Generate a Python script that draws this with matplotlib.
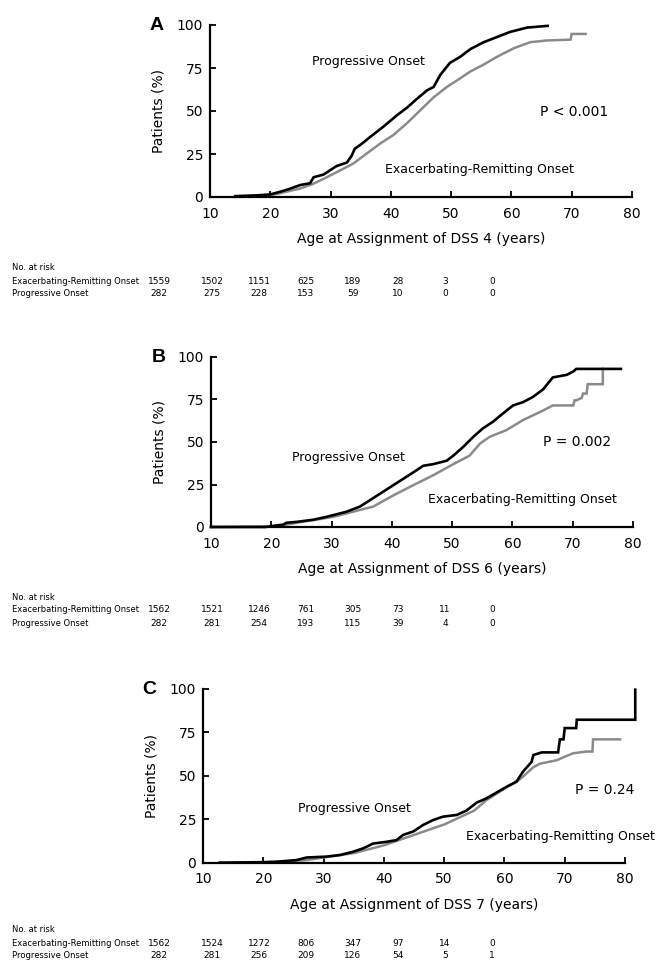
import matplotlib
matplotlib.use('Agg')
import matplotlib.pyplot as plt

# ---------------- data ----------------
# Panel A (DSS 4)
a_prog_age = [14.2, 18, 20, 21.6, 23, 25, 26.6, 27.2, 28.8, 29.9, 31, 32.7, 33.5, 34, 35.2, 36.6, 38.8,
              41, 42.7, 44.3, 46, 47.1, 48.2, 49.8, 51.5, 53.2, 55.4, 57.6, 59.8, 62.6, 66.0]
a_prog_pct = [0.5, 1, 1.5, 3, 4.5, 7, 8, 11.5, 13, 15.5, 18, 20, 24, 28, 31, 35, 41,
              47.5, 52, 57, 62, 64, 71, 78, 81.5, 86, 90, 93, 96, 98.5, 99.5]
a_er_age = [14, 18, 20, 22, 25, 27, 29.1, 31.6, 33.8, 35.5, 38.2, 40.4, 42.7, 44.9, 47.1, 49.3, 51.5,
            53.2, 55.4, 57.6, 60.4, 63.1, 65.9, 69.8, 70.0, 72.3]
a_er_pct = [0, 0.5, 1, 2.5, 5, 7.5, 11, 15.5, 19.5, 24, 31, 36, 43, 50.5, 58, 64, 69,
            73, 77, 81.5, 86.5, 90, 91, 91.5, 94.8, 94.8]

# Panel B (DSS 6)
b_prog_age = [10, 19, 20, 22, 22.5, 24.2, 27, 29.2, 30.3, 32.5, 34.7, 36.9, 39.1, 41.3, 43.5, 45.2, 46.9,
              49.1, 50.2, 51.8, 53.5, 55.1, 56.8, 58.5, 60.1, 61.8, 63.4, 65.1, 66.7, 69, 70.1, 70.6, 78]
b_prog_pct = [0, 0, 0.5, 1.4, 2.5, 3, 4.3, 6, 7, 9, 12, 17, 22, 27, 32, 36, 37,
              39, 42, 47, 53, 58, 62, 67, 71.5, 73.5, 76.5, 81, 88, 89.5, 91.5, 93, 93]
b_er_age = [10, 20, 22, 25, 27.5, 30.3, 33.6, 36.9, 40.2, 43.5, 46.9, 50.2, 52.9, 54.6, 56.2, 59, 61.8,
            64.5, 66.7, 70.1, 70.3, 70.6, 71.5, 71.7, 72.3, 72.5, 75.0, 75.0]
b_er_pct = [0, 0.3, 1, 3, 4.3, 6, 9, 12, 18.5, 24.5, 30.5, 37, 42, 49, 53, 57, 63,
            67.5, 71.5, 71.5, 74.5, 74.5, 76, 78.5, 78.5, 84, 84, 93]

# Panel C (DSS 7)
c_prog_age = [12.8, 20, 22, 25.5, 27.2, 30.5, 32.7, 34.9, 36.6, 38.2, 40.4, 42.1, 43.2, 44.9, 46.5, 48.2,
              49.8, 52.1, 53.7, 55.4, 57, 58.7, 60.4, 62, 63.1, 64.5, 64.8, 66.2, 68.9, 69.2, 69.8, 70.0,
              71.9, 72.0, 81.7, 81.7]
c_prog_pct = [0, 0.3, 0.5, 1.5, 3, 3.5, 4.4, 6.3, 8.3, 11, 12, 13, 16, 18, 21.7, 24.6,
              26.5, 27.5, 30, 34.6, 37, 40.4, 43.8, 46.7, 52.5, 58, 62, 63.5, 63.5, 71, 71, 77.5,
              77.5, 82.3, 82.3, 99.6]
c_er_age = [12.8, 20, 22, 25, 27.2, 30, 35, 40, 45, 50, 55, 57, 60.4, 62, 63.1, 64.8, 65.9, 68.7, 70,
            71.4, 73.6, 74.6, 74.7, 79.2]
c_er_pct = [0, 0.2, 0.5, 1, 1.5, 3, 5.5, 10, 16, 22, 30, 36, 43.5, 46.5, 49.6, 55, 57, 59, 61,
            63, 64, 64, 71, 71]

# Numbers at risk
risk_labels = ["Exacerbating-Remitting Onset", "Progressive Onset"]
a_risk_er = [1559, 1502, 1151, 625, 189, 28, 3, 0]
a_risk_prog = [282, 275, 228, 153, 59, 10, 0, 0]
b_risk_er = [1562, 1521, 1246, 761, 305, 73, 11, 0]
b_risk_prog = [282, 281, 254, 193, 115, 39, 4, 0]
c_risk_er = [1562, 1524, 1272, 806, 347, 97, 14, 0]
c_risk_prog = [282, 281, 256, 209, 126, 54, 5, 1]

x_ticks = [10, 20, 30, 40, 50, 60, 70, 80]
y_ticks = [0, 25, 50, 75, 100]
letters = ["A", "B", "C"]
xlabels = ["Age at Assignment of DSS 4 (years)", "Age at Assignment of DSS 6 (years)",
           "Age at Assignment of DSS 7 (years)"]
p_texts = ["P < 0.001", "P = 0.002", "P = 0.24"]

# ---------------- layout ----------------
W, H = 666, 967
fig = plt.figure(figsize=(W / 100, H / 100), dpi=100)
plt.rcParams['font.family'] = ['DejaVu Sans']


def fx(px):
    return px / W


def fy(py):
    return 1 - py / H


# (left px, right px, top px, bottom px)
rects = [(210, 632, 25, 197), (211, 633, 357, 527), (203, 625, 689, 862.7)]
letter_pos = [(157, 25), (159, 358), (149, 690)]
prog_lbl = [(26.9, 78.5), (23.4, 40.6), (25.8, 31)]
er_lbl = [(39, 15.7), (46, 16), (53.6, 15)]
p_pos = [(64.7, 49.4), (65, 50), (71.7, 42)]
risk_y = [(268, 281, 294), (597, 610, 623), (929, 943, 956)]
col_x = [159, 212, 259, 306, 353, 398, 445, 492]

data = [
    (a_prog_age, a_prog_pct, a_er_age, a_er_pct, a_risk_er, a_risk_prog),
    (b_prog_age, b_prog_pct, b_er_age, b_er_pct, b_risk_er, b_risk_prog),
    (c_prog_age, c_prog_pct, c_er_age, c_er_pct, c_risk_er, c_risk_prog),
]

for i, (pa, pp, ea, ep, rer, rpr) in enumerate(data):
    l, r, t, b = rects[i]
    ax = fig.add_axes([fx(l), fy(b), (r - l) / W, (b - t) / H])
    ax.plot(ea, ep, color='#8a8a8a', lw=1.8, clip_on=False, solid_joinstyle='miter')
    ax.plot(pa, pp, color='black', lw=1.9, clip_on=False, solid_joinstyle='miter')
    ax.set_xlim(10, 80)
    ax.set_ylim(0, 100)
    ax.set_xticks(x_ticks)
    ax.set_yticks(y_ticks)
    for s in ['top', 'right']:
        ax.spines[s].set_visible(False)
    for s in ['left', 'bottom']:
        ax.spines[s].set_linewidth(1.6)
    ax.tick_params(axis='both', direction='in', length=4, width=1.3, labelsize=10)
    ax.tick_params(axis='x', pad=7)
    ax.tick_params(axis='y', pad=5)
    ax.set_xlabel(xlabels[i], fontsize=10, labelpad=8)
    ax.set_ylabel("Patients (%)", fontsize=10, labelpad=8)
    ax.text(prog_lbl[i][0], prog_lbl[i][1], "Progressive Onset", fontsize=9, va='center', ha='left')
    ax.text(er_lbl[i][0], er_lbl[i][1], "Exacerbating-Remitting Onset", fontsize=9, va='center',
            ha='left', clip_on=False)
    ax.text(p_pos[i][0], p_pos[i][1], p_texts[i], fontsize=10, va='center', ha='left')
    fig.text(fx(letter_pos[i][0]), fy(letter_pos[i][1]), letters[i], fontsize=14, fontweight='bold',
             family='Liberation Sans', ha='center', va='center')
    # risk table
    y0, y1, y2 = risk_y[i]
    fig.text(fx(12), fy(y0), "No. at risk", fontsize=6, va='center', ha='left')
    fig.text(fx(12), fy(y1), risk_labels[0], fontsize=6, va='center', ha='left')
    fig.text(fx(12), fy(y2), risk_labels[1], fontsize=6, va='center', ha='left')
    for cx, v1, v2 in zip(col_x, rer, rpr):
        fig.text(fx(cx), fy(y1), str(v1), fontsize=6.5, va='center', ha='center')
        fig.text(fx(cx), fy(y2), str(v2), fontsize=6.5, va='center', ha='center')

fig.savefig('out.png', dpi=100)
